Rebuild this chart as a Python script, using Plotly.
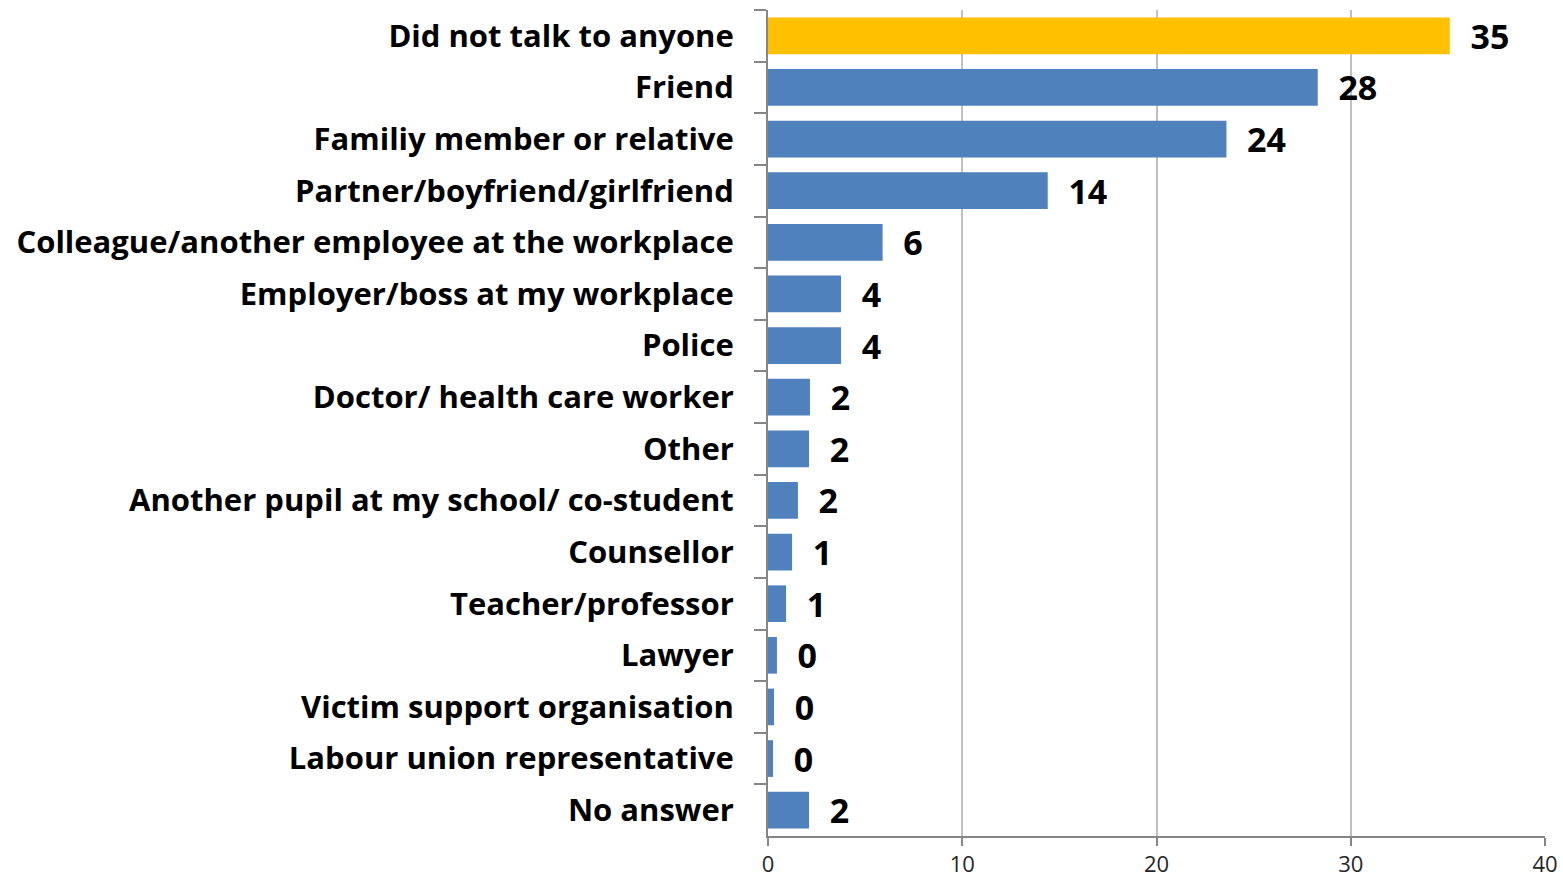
import plotly.graph_objects as go

categories = [
    "Did not talk to anyone",
    "Friend",
    "Familiy member or relative",
    "Partner/boyfriend/girlfriend",
    "Colleague/another employee at the workplace",
    "Employer/boss at my workplace",
    "Police",
    "Doctor/ health care worker",
    "Other",
    "Another pupil at my school/ co-student",
    "Counsellor",
    "Teacher/professor",
    "Lawyer",
    "Victim support organisation",
    "Labour union representative",
    "No answer",
]
values = [35.1, 28.3, 23.6, 14.4, 5.9, 3.76, 3.76, 2.16, 2.11, 1.54, 1.24, 0.93, 0.46, 0.31, 0.26, 2.11]
highlight = "Did not talk to anyone"
x_ticks = [0, 10, 20, 30, 40]

colors = ["#FFC000" if c == highlight else "#4F81BD" for c in categories]

fig = go.Figure(go.Bar(
    x=values,
    y=categories,
    orientation="h",
    marker=dict(color=colors, line=dict(width=0)),
    texttemplate="  %{x:.0f}",
    textposition="outside",
    constraintext="none",
    textfont=dict(family="Open Sans", size=34, color="black", weight="bold"),
    cliponaxis=False,
))

fig.update_layout(
    width=1563, height=879,
    margin=dict(l=768, r=18, t=10, b=43, autoexpand=False),
    plot_bgcolor="white", paper_bgcolor="white",
    bargap=0.29,
    showlegend=False,
    font=dict(family="Open Sans"),
)
fig.update_yaxes(
    autorange="reversed",
    type="category",
    tickson="boundaries",
    ticks="outside", ticklen=12, tickcolor="#868686", tickwidth=2,
    showline=True, linecolor="#868686", linewidth=2,
    showgrid=False,
    tickfont=dict(family="Open Sans", size=31, color="black", weight="bold"),
    ticklabelstandoff=26,
)
fig.update_xaxes(
    range=[0, 40],
    tickvals=x_ticks,
    ticks="outside", ticklen=8, tickcolor="#868686", tickwidth=2,
    showline=True, linecolor="#868686", linewidth=2,
    showgrid=True, gridcolor="#C0C0C0", gridwidth=2,
    zeroline=False,
    tickfont=dict(family="Open Sans", size=22, color="#262626"),
)

fig.write_html(
    "out.html",
    config={"displayModeBar": False},
    post_script="document.body.style.margin='0';document.body.style.overflow='hidden';",
)
